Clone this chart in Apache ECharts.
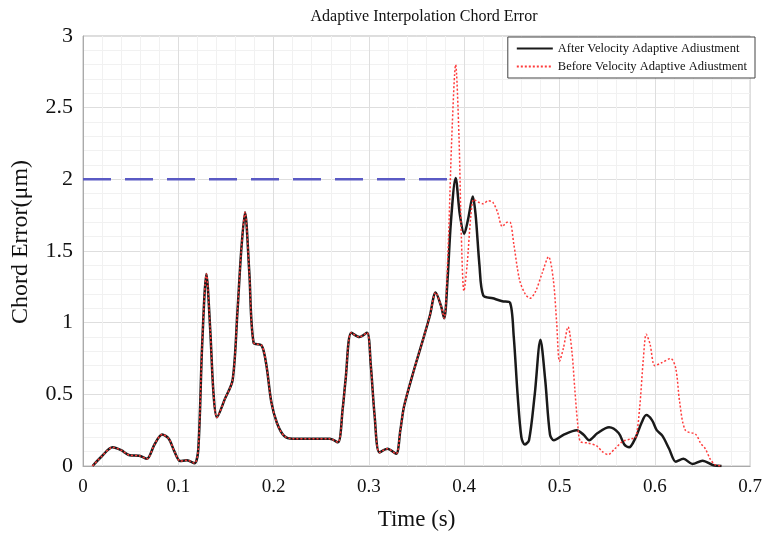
<!DOCTYPE html>
<html>
<head>
<meta charset="utf-8">
<script src="https://cdn.jsdelivr.net/npm/echarts@6/dist/echarts.min.js"></script>
<style>
  html, body { margin: 0; padding: 0; background: #fff; }
  #chart { width: 765px; height: 536px; }
</style>
</head>
<body>
<div id="chart"></div>
<script>
// after velocity adaptive adjustment (black)
var afterT = [0.01, 0.02, 0.031, 0.04, 0.049, 0.059, 0.067, 0.075, 0.083, 0.09, 0.096, 0.102, 0.109, 0.117, 0.121, 0.125, 0.1295, 0.1335, 0.137, 0.1405, 0.149, 0.157, 0.162, 0.166, 0.170, 0.1745, 0.179, 0.1875, 0.1925, 0.1975, 0.2035, 0.211, 0.22, 0.259, 0.2675, 0.2725, 0.2755, 0.2815, 0.29, 0.298, 0.302, 0.306, 0.311, 0.3195, 0.3285, 0.333, 0.337, 0.3475, 0.358, 0.364, 0.370, 0.3755, 0.379, 0.3825, 0.386, 0.391, 0.3955, 0.4, 0.404, 0.409, 0.412, 0.416, 0.42, 0.43, 0.44, 0.448, 0.452, 0.456, 0.46, 0.4635, 0.468, 0.474, 0.480, 0.485, 0.49, 0.494, 0.505, 0.518, 0.525, 0.531, 0.54, 0.552, 0.562, 0.568, 0.573, 0.58, 0.586, 0.591, 0.597, 0.602, 0.608, 0.615, 0.622, 0.63, 0.6395, 0.65, 0.6615, 0.67];
var afterV = [0, 0.07, 0.13, 0.11, 0.075, 0.072, 0.05, 0.15, 0.22, 0.19, 0.1, 0.035, 0.04, 0.02, 0.12, 0.84, 1.34, 0.95, 0.5, 0.34, 0.47, 0.6, 1.07, 1.5, 1.77, 1.35, 0.86, 0.84, 0.7, 0.45, 0.3, 0.21, 0.19, 0.19, 0.165, 0.4, 0.6, 0.93, 0.9, 0.93, 0.7, 0.35, 0.095, 0.12, 0.085, 0.25, 0.42, 0.675, 0.91, 1.05, 1.21, 1.12, 1.03, 1.3, 1.7, 2.01, 1.75, 1.62, 1.72, 1.88, 1.75, 1.4, 1.19, 1.17, 1.15, 1.14, 0.9, 0.5, 0.2, 0.15, 0.18, 0.5, 0.88, 0.6, 0.22, 0.18, 0.22, 0.25, 0.22, 0.18, 0.23, 0.27, 0.23, 0.15, 0.13, 0.2, 0.3, 0.355, 0.32, 0.25, 0.21, 0.12, 0.03, 0.05, 0.014, 0.037, 0.005, 0];

// before velocity adaptive adjustment (red dotted)
var beforeT = [0.01, 0.02, 0.031, 0.04, 0.049, 0.059, 0.067, 0.075, 0.083, 0.09, 0.096, 0.102, 0.109, 0.117, 0.121, 0.125, 0.1295, 0.1335, 0.137, 0.1405, 0.149, 0.157, 0.162, 0.166, 0.170, 0.1745, 0.179, 0.1875, 0.1925, 0.1975, 0.2035, 0.211, 0.22, 0.259, 0.2675, 0.2725, 0.2755, 0.2815, 0.29, 0.298, 0.302, 0.306, 0.311, 0.3195, 0.3285, 0.333, 0.337, 0.3475, 0.358, 0.364, 0.370, 0.3755, 0.379, 0.383, 0.387, 0.391, 0.3945, 0.397, 0.3997, 0.403, 0.407, 0.41, 0.415, 0.42, 0.425, 0.43, 0.435, 0.44, 0.445, 0.448, 0.452, 0.458, 0.464, 0.469, 0.475, 0.482, 0.4885, 0.4935, 0.497, 0.5, 0.504, 0.509, 0.513, 0.516, 0.519, 0.522, 0.53, 0.539, 0.545, 0.551, 0.558, 0.566, 0.575, 0.58, 0.584, 0.588, 0.591, 0.595, 0.6, 0.607, 0.6167, 0.622, 0.626, 0.632, 0.643, 0.648, 0.653, 0.658, 0.663, 0.67];
var beforeV = [0, 0.07, 0.13, 0.11, 0.075, 0.072, 0.05, 0.15, 0.22, 0.19, 0.1, 0.035, 0.04, 0.02, 0.12, 0.84, 1.34, 0.95, 0.5, 0.34, 0.47, 0.6, 1.07, 1.5, 1.77, 1.35, 0.86, 0.84, 0.7, 0.45, 0.3, 0.21, 0.19, 0.19, 0.165, 0.4, 0.6, 0.93, 0.9, 0.93, 0.7, 0.35, 0.095, 0.12, 0.085, 0.25, 0.42, 0.675, 0.91, 1.05, 1.21, 1.12, 1.03, 1.5, 2.3, 2.8, 2.3, 1.6, 1.22, 1.4, 1.75, 1.86, 1.84, 1.83, 1.85, 1.84, 1.77, 1.67, 1.7, 1.7, 1.55, 1.3, 1.2, 1.17, 1.22, 1.35, 1.46, 1.3, 1.0, 0.73, 0.82, 0.97, 0.8, 0.54, 0.3, 0.17, 0.16, 0.14, 0.1, 0.08, 0.12, 0.17, 0.19, 0.2, 0.4, 0.75, 0.92, 0.85, 0.7, 0.72, 0.75, 0.68, 0.45, 0.25, 0.22, 0.16, 0.12, 0.05, 0.01, 0];

// 2 um limit (blue dashed)
var limitT = [0, 0.3875];
var limitV = [2, 2];

var xTicks = [0, 0.1, 0.2, 0.3, 0.4, 0.5, 0.6, 0.7];
var yTicks = [0, 0.5, 1, 1.5, 2, 2.5, 3];

function pairs(xs, ys) {
    return xs.map(function (x, i) { return [x, ys[i]]; });
}

var serif = 'Liberation Serif';
var chart = echarts.init(document.getElementById('chart'));
chart.setOption({
    animation: false,
    title: {
        text: 'Adaptive Interpolation Chord Error',
        left: 419,
        textAlign: 'center',
        top: 4,
        textStyle: { fontFamily: serif, fontSize: 16, fontWeight: 'normal', color: '#111' }
    },
    legend: {
        data: ['After Velocity Adaptive Adiustment', 'Before Velocity Adaptive Adiustment'],
        orient: 'vertical',
        right: 10,
        top: 37,
        backgroundColor: '#fff',
        borderColor: '#444',
        borderWidth: 1,
        borderRadius: 0,
        padding: [5, 8, 5, 8],
        itemGap: 5,
        itemWidth: 36,
        itemHeight: 10,
        itemStyle: { opacity: 0 },
        textStyle: { fontFamily: serif, fontSize: 12.5, color: '#111' }
    },
    grid: {
        left: 83, right: 10, top: 36, bottom: 69,
        show: true, borderColor: '#bbb', borderWidth: 1
    },
    xAxis: {
        type: 'value',
        min: 0, max: 0.7, interval: 0.1,
        name: 'Time (s)',
        nameLocation: 'middle',
        nameGap: 42,
        nameTextStyle: { fontFamily: serif, fontSize: 23, color: '#111' },
        axisLine: { lineStyle: { color: '#aaa' } },
        axisTick: { show: false },
        axisLabel: {
            fontFamily: serif, fontSize: 19, color: '#111', margin: 12,
            formatter: function (v) { return xTicks.indexOf(+v.toFixed(1)) >= 0 ? String(+v.toFixed(1)) : ''; }
        },
        splitLine: { lineStyle: { color: '#dedede' } },
        minorTick: { show: true, splitNumber: 5, length: 0 },
        minorSplitLine: { show: true, lineStyle: { color: '#f1f1f1' } }
    },
    yAxis: {
        type: 'value',
        min: 0, max: 3, interval: 0.5,
        name: 'Chord Error(μm)',
        nameLocation: 'middle',
        nameGap: 50,
        nameTextStyle: { fontFamily: serif, fontSize: 24, color: '#111', padding: [0, 0, 0, 18] },
        axisLine: { show: true, lineStyle: { color: '#aaa' } },
        axisTick: { show: false },
        axisLabel: {
            fontFamily: serif, fontSize: 22, color: '#111', margin: 10,
            formatter: function (v) { return yTicks.indexOf(+v.toFixed(1)) >= 0 ? String(+v.toFixed(1)) : ''; }
        },
        splitLine: { lineStyle: { color: '#dedede' } },
        minorTick: { show: true, splitNumber: 5, length: 0 },
        minorSplitLine: { show: true, lineStyle: { color: '#f1f1f1' } }
    },
    series: [{
        name: 'limit',
        type: 'line',
        data: pairs(limitT, limitV),
        symbol: 'none',
        lineStyle: { color: '#5a5ac4', width: 2.5, type: [28, 14] },
        z: 1
    }, {
        name: 'After Velocity Adaptive Adiustment',
        type: 'line',
        data: pairs(afterT, afterV),
        symbol: 'none',
        smooth: 0.3,
        lineStyle: { color: '#1a1a1a', width: 2.5 },
        itemStyle: { color: '#1a1a1a' },
        z: 2
    }, {
        name: 'Before Velocity Adaptive Adiustment',
        type: 'line',
        data: pairs(beforeT, beforeV),
        symbol: 'none',
        smooth: 0.3,
        lineStyle: { color: '#ff3b3b', width: 1.5, type: [2, 2] },
        itemStyle: { color: '#ff3b3b' },
        z: 3
    }]
});
</script>
</body>
</html>
